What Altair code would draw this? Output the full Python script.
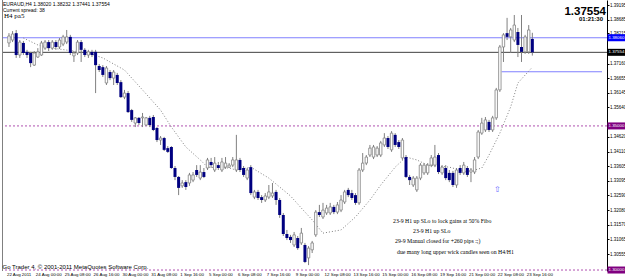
import altair as alt
import pandas as pd

# ---------------- data (EURAUD H4 candles) ----------------
opens = [
    1.3788, 1.3798, 1.3822, 1.3746, 1.3788, 1.3757, 1.3753, 1.3711, 1.3739, 1.3746,
    1.3770, 1.3791, 1.3770, 1.3791, 1.3774, 1.3784, 1.3791, 1.3809, 1.3743, 1.3753,
    1.3791, 1.3764, 1.3746, 1.3757, 1.3757, 1.3708, 1.3704, 1.3649, 1.3687, 1.3666,
    1.3677, 1.3652, 1.3600, 1.3614, 1.3555, 1.3510, 1.3528, 1.3528, 1.3503, 1.3528,
    1.3531, 1.3493, 1.3451, 1.3458, 1.3423, 1.3427, 1.3354, 1.3323, 1.3292, 1.3305,
    1.3302, 1.3312, 1.3347, 1.3319, 1.3340, 1.3354, 1.3375, 1.3347, 1.3364, 1.3347,
    1.3357, 1.3357, 1.3364, 1.3347, 1.3382, 1.3354, 1.3319, 1.3357, 1.3253, 1.3271,
    1.3253, 1.3243, 1.3253, 1.3257, 1.3271, 1.3243, 1.3191, 1.3125, 1.3115, 1.3087,
    1.3111, 1.3094, 1.3087, 1.3042, 1.3070, 1.3122, 1.3201, 1.3184, 1.3198, 1.3198,
    1.3219, 1.3201, 1.3208, 1.3236, 1.3278, 1.3267, 1.3260, 1.3233, 1.3347, 1.3371,
    1.3399, 1.3392, 1.3399, 1.3399, 1.3434, 1.3458, 1.3417, 1.3469, 1.3444, 1.3389,
    1.3392, 1.3323, 1.3295, 1.3278, 1.3319, 1.3337, 1.3337, 1.3364, 1.3364, 1.3399,
    1.3337, 1.3354, 1.3337, 1.3337, 1.3295, 1.3354, 1.3337, 1.3354, 1.3340, 1.3340,
    1.3392, 1.3475, 1.3486, 1.3514, 1.3486, 1.3528, 1.3625, 1.3774, 1.3822, 1.3809,
    1.3798, 1.3826, 1.3774, 1.3757, 1.3757, 1.38020]
highs = [
    1.3822, 1.3829, 1.3833, 1.3798, 1.3795, 1.3764, 1.3757, 1.3760, 1.3770, 1.3795,
    1.3798, 1.3798, 1.3798, 1.3798, 1.3805, 1.3816, 1.3833, 1.3816, 1.3760, 1.3798,
    1.3798, 1.3770, 1.3764, 1.3764, 1.3764, 1.3715, 1.3711, 1.3708, 1.3694, 1.3694,
    1.3684, 1.3659, 1.3625, 1.3621, 1.3559, 1.3531, 1.3531, 1.3545, 1.3531, 1.3535,
    1.3538, 1.3496, 1.3465, 1.3462, 1.3430, 1.3430, 1.3361, 1.3326, 1.3312, 1.3312,
    1.3337, 1.3340, 1.3364, 1.3364, 1.3354, 1.3389, 1.3389, 1.3392, 1.3375, 1.3389,
    1.3392, 1.3371, 1.3392, 1.3469, 1.3389, 1.3361, 1.3354, 1.3364, 1.3278, 1.3278,
    1.3260, 1.3267, 1.3295, 1.3302, 1.3278, 1.3250, 1.3198, 1.3139, 1.3122, 1.3132,
    1.3118, 1.3146, 1.3094, 1.3083, 1.3101, 1.3208, 1.3226, 1.3233, 1.3226, 1.3233,
    1.3226, 1.3236, 1.3260, 1.3278, 1.3285, 1.3278, 1.3267, 1.3354, 1.3406, 1.3399,
    1.3434, 1.3434, 1.3430, 1.3448, 1.3475, 1.3465, 1.3482, 1.3475, 1.3451, 1.3458,
    1.3399, 1.3330, 1.3326, 1.3326, 1.3371, 1.3371, 1.3371, 1.3399, 1.3434, 1.3406,
    1.3364, 1.3364, 1.3347, 1.3344, 1.3354, 1.3364, 1.3375, 1.3361, 1.3354, 1.3392,
    1.3486, 1.3528, 1.3531, 1.3521, 1.3535, 1.3632, 1.3781, 1.3822, 1.3875, 1.3840,
    1.3885, 1.3840, 1.3885, 1.3816, 1.3850, 1.38232]
lows = [
    1.3774, 1.3791, 1.3736, 1.3736, 1.3746, 1.3736, 1.3704, 1.3708, 1.3736, 1.3743,
    1.3764, 1.3760, 1.3764, 1.3764, 1.3767, 1.3777, 1.3784, 1.3746, 1.3722, 1.3746,
    1.3722, 1.3739, 1.3736, 1.3739, 1.3614, 1.3687, 1.3670, 1.3642, 1.3659, 1.3642,
    1.3642, 1.3597, 1.3593, 1.3545, 1.3514, 1.3496, 1.3503, 1.3496, 1.3500, 1.3496,
    1.3482, 1.3444, 1.3434, 1.3413, 1.3406, 1.3351, 1.3312, 1.3260, 1.3285, 1.3278,
    1.3292, 1.3305, 1.3323, 1.3312, 1.3319, 1.3347, 1.3354, 1.3340, 1.3347, 1.3340,
    1.3351, 1.3354, 1.3357, 1.3340, 1.3340, 1.3323, 1.3312, 1.3260, 1.3246, 1.3243,
    1.3233, 1.3236, 1.3246, 1.3250, 1.3226, 1.3181, 1.3118, 1.3104, 1.3094, 1.3080,
    1.3070, 1.3087, 1.3024, 1.3017, 1.3059, 1.3115, 1.3184, 1.3177, 1.3191, 1.3191,
    1.3194, 1.3194, 1.3201, 1.3229, 1.3253, 1.3243, 1.3226, 1.3226, 1.3340, 1.3364,
    1.3392, 1.3385, 1.3392, 1.3392, 1.3427, 1.3420, 1.3410, 1.3427, 1.3420, 1.3382,
    1.3319, 1.3295, 1.3288, 1.3271, 1.3312, 1.3330, 1.3330, 1.3357, 1.3357, 1.3333,
    1.3330, 1.3312, 1.3305, 1.3288, 1.3285, 1.3330, 1.3330, 1.3323, 1.3305, 1.3333,
    1.3385, 1.3469, 1.3479, 1.3479, 1.3479, 1.3521, 1.3618, 1.3722, 1.3798, 1.3753,
    1.3791, 1.3739, 1.3722, 1.3750, 1.3750, 1.37441]
closes = [
    1.3812, 1.3819, 1.3746, 1.3791, 1.3753, 1.3746, 1.3718, 1.3753, 1.3757, 1.3788,
    1.3791, 1.3770, 1.3791, 1.3774, 1.3798, 1.3809, 1.3809, 1.3753, 1.3753, 1.3791,
    1.3764, 1.3746, 1.3757, 1.3746, 1.3711, 1.3694, 1.3677, 1.3701, 1.3666, 1.3687,
    1.3649, 1.3600, 1.3614, 1.3548, 1.3521, 1.3528, 1.3510, 1.3531, 1.3528, 1.3503,
    1.3486, 1.3451, 1.3458, 1.3417, 1.3410, 1.3354, 1.3323, 1.3285, 1.3302, 1.3288,
    1.3330, 1.3330, 1.3330, 1.3340, 1.3323, 1.3382, 1.3364, 1.3371, 1.3354, 1.3375,
    1.3371, 1.3364, 1.3382, 1.3382, 1.3347, 1.3330, 1.3347, 1.3267, 1.3271, 1.3250,
    1.3243, 1.3257, 1.3271, 1.3267, 1.3243, 1.3191, 1.3125, 1.3111, 1.3104, 1.3122,
    1.3076, 1.3128, 1.3028, 1.3076, 1.3094, 1.3201, 1.3191, 1.3208, 1.3215, 1.3219,
    1.3201, 1.3226, 1.3243, 1.3271, 1.3260, 1.3250, 1.3233, 1.3347, 1.3371, 1.3392,
    1.3423, 1.3427, 1.3423, 1.3441, 1.3458, 1.3427, 1.3475, 1.3434, 1.3427, 1.3451,
    1.3323, 1.3312, 1.3319, 1.3319, 1.3364, 1.3364, 1.3364, 1.3389, 1.3392, 1.3340,
    1.3357, 1.3319, 1.3312, 1.3295, 1.3347, 1.3337, 1.3364, 1.3330, 1.3347, 1.3382,
    1.3479, 1.3510, 1.3521, 1.3486, 1.3528, 1.3625, 1.3774, 1.3816, 1.3809, 1.3833,
    1.3850, 1.3781, 1.3757, 1.3809, 1.3833, 1.37554]
bar_idx = list(range(len(opens)))

# dotted moving average (bar index, value)
ma_idx = [4, 8, 12, 22, 26, 32, 37, 42, 45, 49, 53, 55, 61, 63, 67, 72, 75, 78, 81,
          84, 87, 92, 96, 100, 103, 107, 110, 113, 116, 122, 127, 131, 133, 136,
          139, 141, 145]
ma_val = [1.3805, 1.3781, 1.3770, 1.3753, 1.3736, 1.3694, 1.3625, 1.3555, 1.3496,
          1.3427, 1.3382, 1.3357, 1.3354, 1.3347, 1.3357, 1.3319, 1.3288, 1.3257,
          1.3215, 1.3174, 1.3128, 1.3139, 1.3184, 1.3243, 1.3295, 1.3357, 1.3392,
          1.3382, 1.3364, 1.3357, 1.3340, 1.3354, 1.3399, 1.3475, 1.3566, 1.3649,
          1.3704]

# time axis labels (every 8 bars)
time_idx = [0, 8, 16, 24, 32, 40, 48, 56, 64, 72, 80, 88, 96, 104, 112, 120, 128, 136, 144]
time_lbl = ["22 Aug 2011", "24 Aug 00:00", "25 Aug 08:00", "26 Aug 16:00", "30 Aug 00:00",
            "31 Aug 08:00", "1 Sep 16:00", "5 Sep 00:00", "6 Sep 08:00", "7 Sep 16:00",
            "9 Sep 00:00", "12 Sep 08:00", "13 Sep 16:00", "15 Sep 00:00", "16 Sep 08:00",
            "19 Sep 16:00", "21 Sep 00:00", "22 Sep 08:00", "23 Sep 16:00"]

# price axis tick labels
price_ticks = [1.39195, 1.38685, 1.38215, 1.37160, 1.36655, 1.36145, 1.35640, 1.34620,
               1.34110, 1.33605, 1.33095, 1.32590, 1.32080, 1.31570, 1.31065, 1.30555]

# horizontal lines
full_line_price = [1.3806, 1.37554]
full_line_color = ["#8080ff", "#404040"]
dotted_line_price = [1.3500, 1.3000]
part_line_price = [1.3688]
part_line_start = [136.5]
part_line_end = [164.3]

# coloured price labels on the right
tag_price = [1.3806, 1.37554, 1.3500, 1.3000]
tag_text = ["1.38060", "1.37554", "1.35000", "1.30000"]
tag_color = ["#0000ff", "#000000", "#800080", "#800080"]

annotations = ["23-9 H1 up SLo to lock gains at 50% Fibo",
               "23-9 H1 up SLo",
               "29-9 Manual closed for +260 pips :;)",
               "due many long upper wick candles seen on H4/H1"]

# ---------------- chart ----------------
W, H = 605, 271
xs = alt.Scale(domain=[-0.545, 164.3], nice=False, zero=False)
ys = alt.Scale(domain=[1.29966, 1.3937], nice=False, zero=False)
yax = alt.Axis(orient="right", values=price_ticks, format=".5f", labelFontSize=4.5,
               labelFont="Liberation Sans", labelColor="#000000", tickSize=2,
               tickColor="#000000", domainColor="#000000", labelPadding=0.5,
               grid=False, title=None, labelOverlap=False, labelFlush=False)


def Y(field):
    return alt.Y(field, scale=ys, axis=yax, title=None)


df = pd.DataFrame({"i": bar_idx, "o": opens, "h": highs, "l": lows, "c": closes})
X = alt.X("i:Q", scale=xs, axis=None)

wicks = alt.Chart(df).mark_rule(color="#808080", strokeWidth=1).encode(
    x=X, y=Y("l:Q"), y2="h:Q")
bull = alt.Chart(df).transform_filter("datum.c >= datum.o").mark_bar(
    size=2.4, fill="#ffffff", stroke="#808080", strokeWidth=0.8).encode(
    x=X, y=Y("o:Q"), y2="c:Q")
bear = alt.Chart(df).transform_filter("datum.c < datum.o").mark_bar(
    size=3, color="#000080").encode(
    x=X, y=Y("o:Q"), y2="c:Q")

ma = alt.Chart(pd.DataFrame({"i": ma_idx, "v": ma_val})).mark_line(
    color="#808080", strokeWidth=1, strokeDash=[1, 2]).encode(
    x=X, y=Y("v:Q"))

full_lines = alt.Chart(pd.DataFrame({"p": full_line_price, "col": full_line_color})).mark_rule(
    strokeWidth=1).encode(y=Y("p:Q"), color=alt.Color("col:N", scale=None))
dotted_lines = alt.Chart(pd.DataFrame({"p": dotted_line_price})).mark_rule(
    strokeWidth=1, color="#b050b0", strokeDash=[2, 2]).encode(y=Y("p:Q"))
part_lines = alt.Chart(pd.DataFrame({"p": part_line_price, "s": part_line_start, "e": part_line_end})).mark_rule(
    strokeWidth=1, color="#8080ff").encode(
    y=Y("p:Q"), x=alt.X("s:Q", scale=xs, axis=None), x2="e:Q")

left_border = alt.Chart(pd.DataFrame({"a": [0]})).mark_rule(color="#808080").encode(
    x=alt.value(0.5), y=alt.value(0), y2=alt.value(H))

tags_df = pd.DataFrame({"p": tag_price, "t": tag_text, "col": tag_color})
tag_bg = alt.Chart(tags_df).mark_rule(strokeWidth=7).encode(
    y=Y("p:Q"), x=alt.value(605.5), x2=alt.value(623),
    color=alt.Color("col:N", scale=None))
tag_txt = alt.Chart(tags_df).mark_text(align="left", baseline="middle", color="white",
                                       fontSize=4.4, font="Liberation Sans").encode(
    y=Y("p:Q"), x=alt.value(606.5), text="t:N")

time_labels = alt.Chart(pd.DataFrame({"i": time_idx, "t": time_lbl})).mark_text(
    align="left", baseline="middle", fontSize=4.4, font="Liberation Sans", color="#000000", dx=-2).encode(
    x=X, y=alt.value(275), text="t:N")


def txt(s, x, y, size, font="Liberation Sans", weight="normal", color="#000000",
        align="left", baseline="middle"):
    return alt.Chart(pd.DataFrame({"t": [s]})).mark_text(
        font=font, fontSize=size, fontWeight=weight, color=color, align=align,
        baseline=baseline).encode(x=alt.value(x), y=alt.value(y), text="t:N")


texts = [
    txt("EURAUD,H4  1.38020 1.38232 1.37441 1.37554", 1, 4, 5.0),
    txt("Current spread: 38", 1, 9.5, 5.0),
    txt("H4 pa5", 2, 15.5, 7, font="Liberation Serif"),
    txt("1.37554", 604, 15, 11.5, weight="bold", align="right", baseline="alphabetic"),
    txt("01:21:30", 601, 20.5, 6, weight="bold", align="right", baseline="alphabetic"),
    txt("Go Trader 4, \u00a9 2001-2011 MetaQuotes Software Corp.", 0.5, 268.5, 6,
        baseline="alphabetic"),
    txt(annotations[0], 391, 221, 5.8, font="Liberation Serif"),
    txt(annotations[1], 411, 231, 5.8, font="Liberation Serif"),
    txt(annotations[2], 393, 241, 5.8, font="Liberation Serif"),
    txt(annotations[3], 395, 251.5, 5.8, font="Liberation Serif"),
    txt("\u21e7", 492, 190, 8, font="DejaVu Sans", color="#6666ff"),
]

chart = alt.layer(
    full_lines, dotted_lines, part_lines, ma, wicks, bull, bear, left_border,
    tag_bg, tag_txt, time_labels, *texts
).properties(
    width=W, height=H,
    padding={"left": 2, "right": 18, "top": 0, "bottom": 8},
    autosize=alt.AutoSizeParams(type="none"),
    background="#ffffff",
).configure_view(stroke=None)

chart.save("out.html", embed_options={"renderer": "svg", "actions": False})
